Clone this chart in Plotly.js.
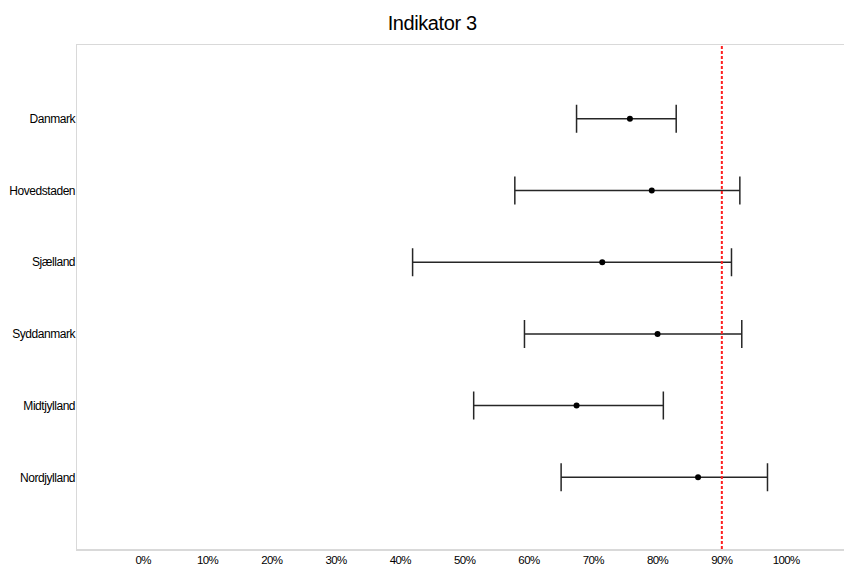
<!DOCTYPE html>
<html>
<head>
<meta charset="utf-8">
<script src="https://cdn.plot.ly/plotly-3.0.1.min.js"></script>
<style>
html,body{margin:0;padding:0;background:#fff;}
#chart{width:844px;height:566px;}
#chart .ytick text{letter-spacing:-0.45px;}
#chart .xtick text{letter-spacing:-0.6px;}
#chart .gtitle{letter-spacing:-0.4px;}
</style>
</head>
<body>
<div id="chart"></div>
<script>
const regions = ["Danmark", "Hovedstaden", "Sjælland", "Syddanmark", "Midtjylland", "Nordjylland"];
const estimate = [0.757, 0.791, 0.714, 0.800, 0.674, 0.863];
const lower = [0.674, 0.578, 0.419, 0.593, 0.514, 0.650];
const upper = [0.829, 0.928, 0.915, 0.931, 0.809, 0.971];
const target = 0.90;
const xTickVals = [0, 0.1, 0.2, 0.3, 0.4, 0.5, 0.6, 0.7, 0.8, 0.9, 1.0];
const xTickText = ["0%", "10%", "20%", "30%", "40%", "50%", "60%", "70%", "80%", "90%", "100%"];

const yIdx = regions.map((_, i) => i);
const trace = {
  type: "scatter",
  mode: "markers",
  x: estimate,
  y: yIdx,
  marker: {color: "#000", size: 6},
  error_x: {
    type: "data",
    symmetric: false,
    array: upper.map((u, i) => u - estimate[i]),
    arrayminus: lower.map((l, i) => estimate[i] - l),
    color: "#262626",
    thickness: 1.5,
    width: 14
  },
  hoverinfo: "x+y",
  showlegend: false
};

const font = "Liberation Sans, Arial, sans-serif";
const layout = {
  width: 844, height: 566,
  margin: {l: 77, r: 0, t: 45, b: 17},
  paper_bgcolor: "#fff", plot_bgcolor: "#fff",
  font: {family: font, color: "#000", size: 12},
  title: {text: "Indikator 3", x: 0.512, xref: "container", xanchor: "center",
          y: 1 - 23 / 566, yref: "container", yanchor: "middle",
          font: {family: font, size: 20, color: "#000"}},
  xaxis: {
    range: [-0.103, 1.09],
    tickvals: xTickVals, ticktext: xTickText,
    showgrid: false, zeroline: false,
    showline: true, mirror: true, linecolor: "#d9d9d9", linewidth: 1.5,
    ticks: "", tickfont: {size: 11.5, family: font}
  },
  yaxis: {
    range: [6.0, -1.03],
    tickvals: yIdx, ticktext: regions,
    showgrid: false, zeroline: false,
    showline: true, linecolor: "#d9d9d9", linewidth: 1.5,
    ticks: "", ticklabelstandoff: -2,
    tickfont: {size: 12, family: font}
  },
  shapes: [{
    type: "line", xref: "x", yref: "paper",
    x0: target, x1: target, y0: 0, y1: 1,
    line: {color: "#ff2020", width: 2, dash: "3px,2px"}
  }]
};

Plotly.newPlot("chart", [trace], layout, {displayModeBar: false, staticPlot: true});
</script>
</body>
</html>
